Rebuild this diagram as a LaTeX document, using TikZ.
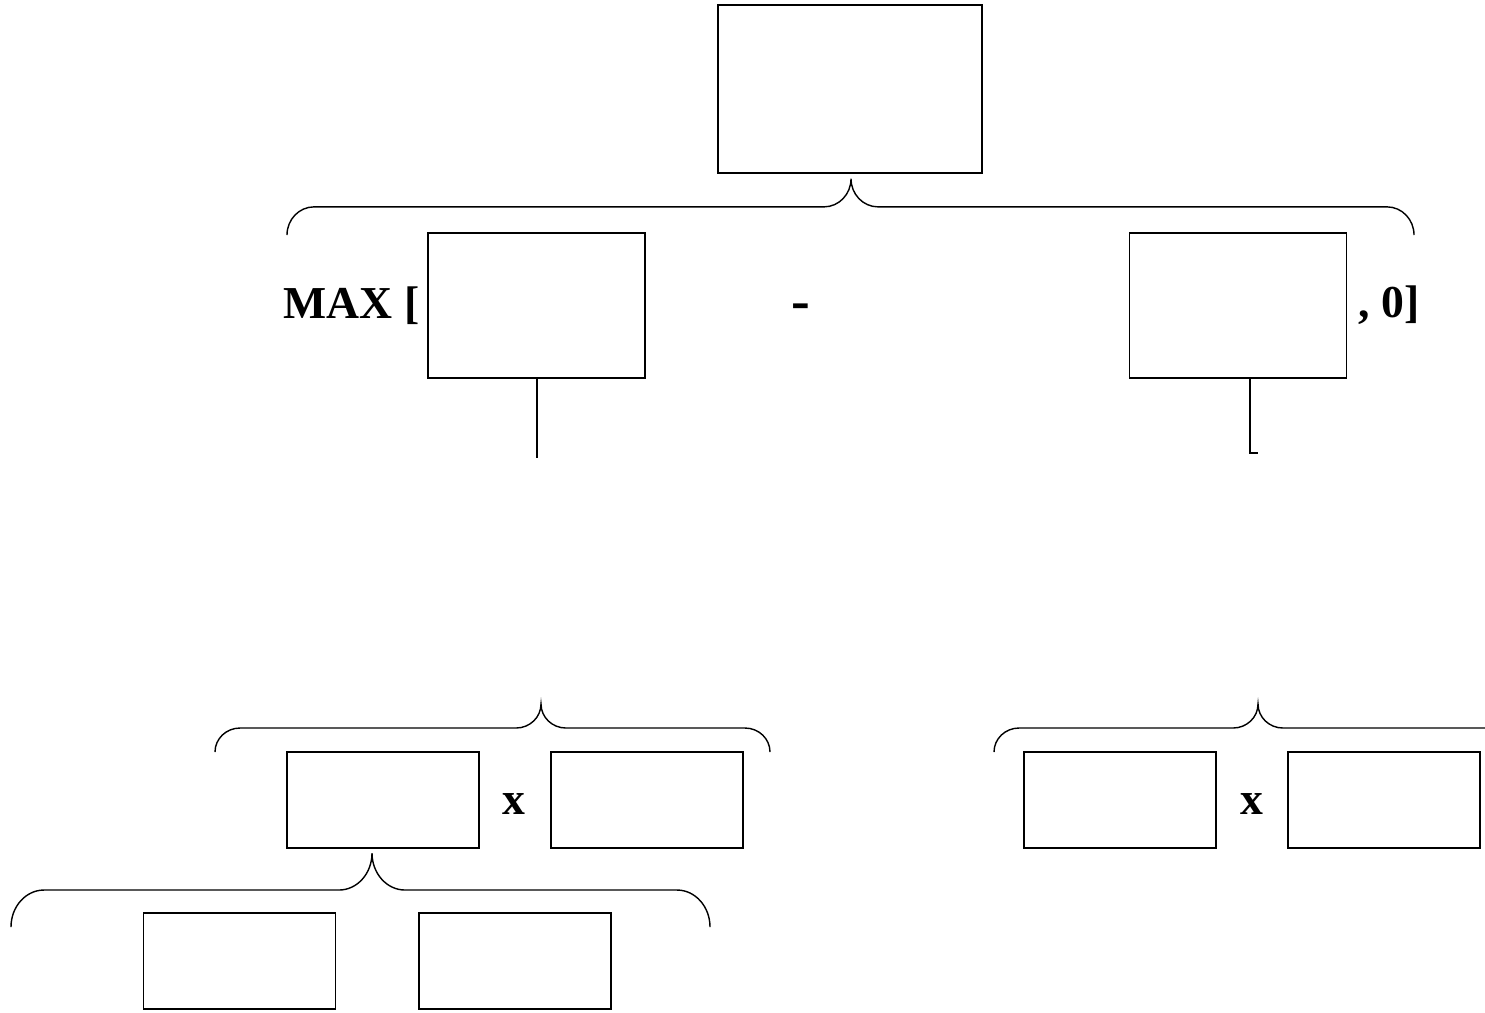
\documentclass[tikz,border=0pt]{standalone}
\usepackage{fontspec}
\setmainfont{Liberation Serif}
\usetikzlibrary{positioning, calc}

\tikzset{
  box/.style={draw, inner sep=0pt, minimum width=1.92cm, minimum height=0.96cm},
  bigbox/.style={box, minimum width=2.17cm, minimum height=1.45cm},
  sign/.style={font=\fontsize{13}{15}\selectfont\bfseries, inner sep=0pt},
}
% curly brace: left end, tip, right end, curl width
\newcommand{\curly}[4]{%
  \draw let \p1=(#1), \p2=(#2), \p3=(#3), \n1={0.5*\y1+0.5*\y2}, \n2={0.5*\y2-0.5*\y1} in
    (\p1) .. controls (\x1,\y1+0.552*\n2) and (\x1+0.448*#4,\n1) .. (\x1+#4,\n1)
    -- (\x2-#4,\n1) .. controls (\x2-0.448*#4,\n1) and (\x2,\n1+0.448*\n2) .. (\p2)
    .. controls (\x2,\n1+0.448*\n2) and (\x2+0.448*#4,\n1) .. (\x2+#4,\n1)
    -- (\x3-#4,\n1) .. controls (\x3-0.448*#4,\n1) and (\x3,\y3+0.552*\n2) .. (\p3);
}

\begin{document}
\begin{tikzpicture}
\useasboundingbox (0,0) rectangle (14.85,-10.12);
\clip (0,0) rectangle (14.85,-10.12);
% top
\node[box, minimum width=2.64cm, minimum height=1.68cm] (top) at (8.50,-0.89) {};
\node[bigbox] (maxl) at (5.365,-3.055) {};
\node[bigbox] (maxr) at (12.38,-3.055) {};
\node[sign, left=0.07cm of maxl] (max) {MAX [};
\node[sign, font=\fontsize{16}{18}\selectfont\bfseries] (minus) at (8.01,-3.12) {-};
\node[sign, right=0.11cm of maxr] (zero) {, 0]};
\curly{2.87,-2.35}{$(top.south)+(0.01,-0.05)$}{14.14,-2.35}{0.27cm}
\coordinate (maxl-end) at (5.37,-4.58);
\coordinate (maxr-end) at (12.50,-4.53);
\draw (maxl.south -| maxl-end) -- (maxl-end);
\draw (maxr.south -| maxr-end) -- (maxr-end) -- ++(0.08,0);
% bottom left
\node[box] (a) at (3.83,-8.00) {};
\node[box] (b) at (6.47,-8.00) {};
\node[sign] (times1) at (5.14,-8.04) {x};
\node[box] (c) at (2.395,-9.61) {};
\node[box] (d) at (5.15,-9.61) {};
\curly{2.15,-7.52}{5.41,-7.04}{7.70,-7.52}{0.25cm}
\curly{0.11,-9.27}{3.72,-8.53}{7.10,-9.27}{0.33cm}
% bottom right
\node[box] (e) at (11.20,-8.00) {};
\node[box] (f) at (13.84,-8.00) {};
\node[sign] (times2) at (12.52,-8.04) {x};
\curly{9.94,-7.52}{12.58,-7.04}{15.22,-7.52}{0.25cm}
\end{tikzpicture}
\end{document}
